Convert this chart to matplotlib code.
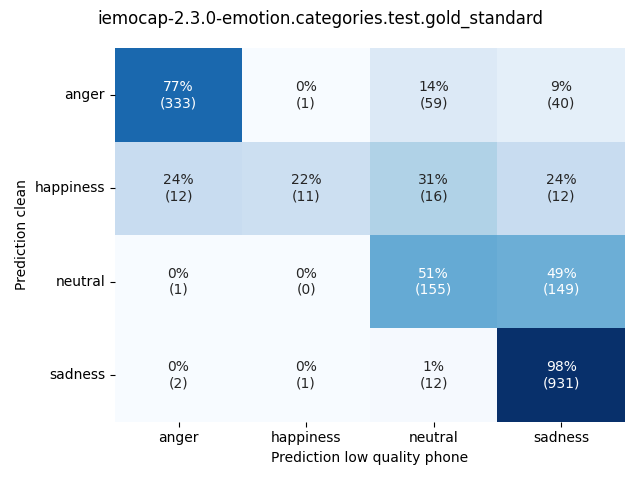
import numpy as np
import matplotlib
matplotlib.use("Agg")
import matplotlib.pyplot as plt
import seaborn as sns

labels = ["anger", "happiness", "neutral", "sadness"]
counts = [
    [333, 1, 59, 40],
    [12, 11, 16, 12],
    [1, 0, 155, 149],
    [2, 1, 12, 931],
]

cm = np.array(counts, dtype=float)
pct = 100 * cm / cm.sum(axis=1, keepdims=True)
annot = [[f"{pct[i, j]:.0f}%\n({counts[i][j]})" for j in range(len(labels))]
         for i in range(len(labels))]

fig, ax = plt.subplots(figsize=(6.4, 4.8), dpi=100)
sns.heatmap(pct, annot=np.array(annot), fmt="", cmap="Blues", cbar=False,
            xticklabels=labels, yticklabels=labels, ax=ax)
ax.set_yticklabels(labels, rotation=0)
ax.set_xlabel("Prediction low quality phone")
ax.set_ylabel("Prediction clean")
fig.suptitle("iemocap-2.3.0-emotion.categories.test.gold_standard")
plt.tight_layout()
plt.savefig("out.png")
